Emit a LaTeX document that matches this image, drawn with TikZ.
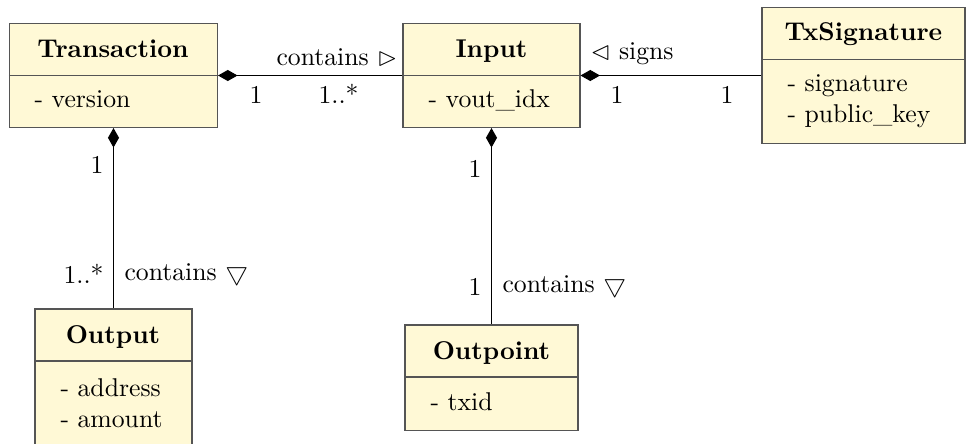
\documentclass[tikz,border=0pt]{standalone}
\usepackage{amssymb}
\usetikzlibrary{arrows.meta}
\definecolor{boxfill}{RGB}{255,249,214}
\definecolor{boxline}{RGB}{85,85,85}
\def\pxu{0.3891pt}
\tikzset{
  classbox/.style={draw=boxline, fill=boxfill, line width=0.4pt, inner sep=0pt},
  title/.style={font=\bfseries, anchor=base, inner sep=0pt},
  attr/.style={anchor=base west, inner sep=0pt},
  lbl/.style={anchor=base west, inner sep=0pt},
  conn/.style={draw=black, line width=0.4pt},
  comp/.style={conn, {Diamond[length=7.6pt,width=4.3pt]}-},
}
\newcommand\sepline[1]{%
  \draw[boxline, line width=0.4pt] ([yshift=-20.43pt]#1.north west) -- ([yshift=-20.43pt]#1.north east);}
\begin{document}
\begin{tikzpicture}[x=\pxu, y=-\pxu]
\useasboundingbox (0,0) rectangle (966,443);

% class boxes
\node[classbox, minimum width=80.93pt, minimum height=40.47pt] (tx)  at (113.5,75.5) {};
\node[classbox, minimum width=68.87pt, minimum height=40.47pt] (in)  at (491.5,75.5) {};
\node[classbox, minimum width=78.99pt, minimum height=52.92pt] (sig) at (863.5,75.5) {};
\node[classbox, minimum width=61.09pt, minimum height=52.92pt] (out) at (113.5,377) {};
\node[classbox, minimum width=67.31pt, minimum height=40.86pt] (pt)  at (491.5,377.5) {};
\sepline{tx}
\sepline{in}
\sepline{sig}
\sepline{out}
\sepline{pt}

% class names
\node[title] (txname)  at (113,57)   {Transaction};
\node[title] (inname)  at (491.5,57) {Input};
\node[title] (signame) at (863.5,40) {TxSignature};
\node[title] (outname) at (113,343)  {Output};
\node[title] (ptname)  at (491.5,359) {Outpoint};

% attributes, one node per line
\node[attr] (txattr)  at (34,107)  {- version};
\node[attr] (inattr)  at (428,107) {- vout\_idx};
\node[attr] (sigattr) at (787,91)  {- signature};
\node[attr] (sigattrb) at (787,122) {- public\_key};
\node[attr] (outattr) at (60,396)  {- address};
\node[attr] (outattrb) at (60,427) {- amount};
\node[attr] (ptattr)  at (430,410) {- txid};

% compositions
\draw[comp] (tx.east) -- (in.west);
\draw[comp] (in.east) -- (sig.west);
\draw[comp] (tx.south) -- (out.north);
\draw[comp] (in.south) -- (pt.north);

% role names and multiplicities
\node[lbl] (l1) at (276,65)  {contains $\vartriangleright$};
\node[lbl] (l2) at (249,103) {1};
\node[lbl] (l3) at (318,103) {1..*};
\node[lbl] (l4) at (590,59)  {$\vartriangleleft$ signs};
\node[lbl] (l5) at (610,103) {1};
\node[lbl] (l6) at (720,103) {1};
\node[lbl] (l7) at (90,173)  {1};
\node[lbl] (l8) at (63,283)  {1..*};
\node[lbl] (l9) at (124,280) {contains $\bigtriangledown$};
\node[lbl] (l10) at (468,177) {1};
\node[lbl] (l11) at (468,295) {1};
\node[lbl] (l12) at (502,292) {contains $\bigtriangledown$};
\end{tikzpicture}
\end{document}
